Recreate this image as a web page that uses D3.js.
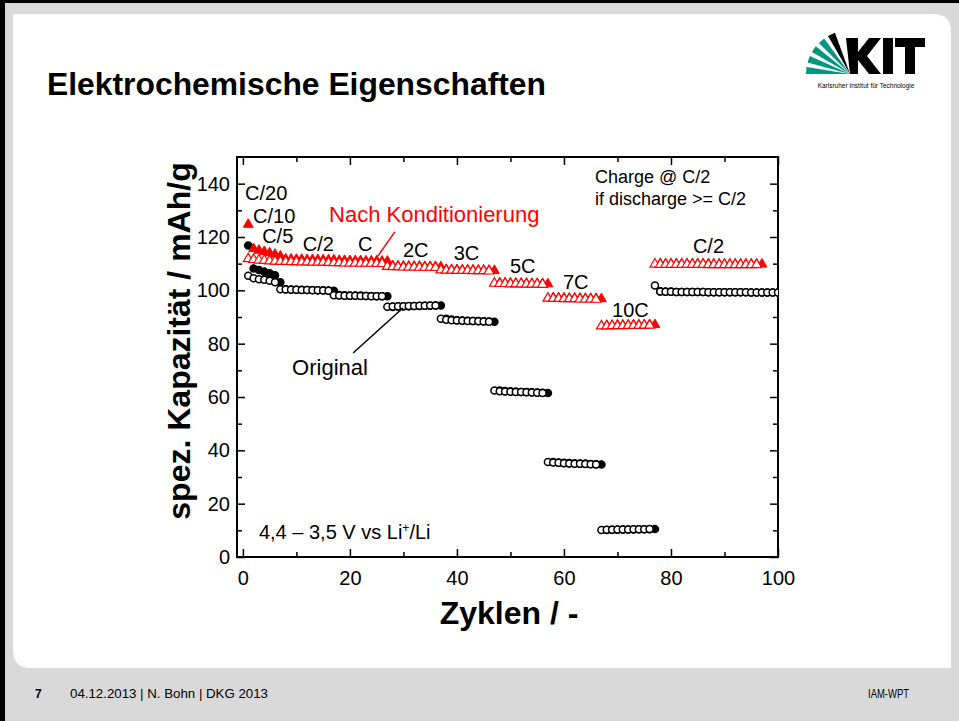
<!DOCTYPE html>
<html>
<head>
<meta charset="utf-8">
<script src="https://cdn.jsdelivr.net/npm/d3@7"></script>
<style>
  body { margin: 0; background: #d9d9d9; }
  svg { display: block; font-family: "Liberation Sans", Arial, sans-serif; }
</style>
</head>
<body>
<div id="chart"></div>
<script>
// ---- data (cycle n = index + 1) ----
// Original: open circles = discharge, filled circles = charge
const origDischarge = [
  105.5, 104.5, 104.2, 104.0, 103.6, 103.0,
  100.4, 100.3, 100.2, 100.2, 100.1, 100.1, 100.0, 100.0, 99.9, 99.8,
  98.2, 98.1, 98.0, 98.0, 98.0, 97.9, 97.9, 97.8, 97.8, 97.8,
  93.8, 93.9, 94.0, 94.0, 94.1, 94.1, 94.2, 94.2, 94.3, 94.3,
  89.3, 89.0, 88.8, 88.7, 88.6, 88.5, 88.5, 88.4, 88.3, 88.2,
  62.4, 62.2, 62.1, 62.0, 61.9, 61.9, 61.8, 61.7, 61.6, 61.5,
  35.6, 35.4, 35.3, 35.2, 35.1, 35.0, 35.0, 34.9, 34.8, 34.7,
  10.1, 10.2, 10.2, 10.3, 10.3, 10.3, 10.4, 10.4, 10.4, 10.5,
  101.8, 99.6, 99.5, 99.5, 99.4, 99.4, 99.4, 99.4, 99.4, 99.4, 99.3, 99.3,
  99.3, 99.3, 99.3, 99.3, 99.3, 99.3, 99.2, 99.2, 99.2, 99.2, 99.2, 99.2
];
const origCharge = [
  116.8, 108.2, 107.6, 107.0, 106.4, 105.6, 103.0,
  100.4, 100.3, 100.2, 100.2, 100.1, 100.1, 100.0, 100.0, 99.9, 99.8,
  98.2, 98.1, 98.0, 98.0, 98.0, 97.9, 97.9, 97.8, 97.8, 97.8,
  93.8, 93.9, 94.0, 94.0, 94.1, 94.1, 94.2, 94.2, 94.3, 94.3,
  89.3, 89.0, 88.8, 88.7, 88.6, 88.5, 88.5, 88.4, 88.3, 88.2,
  62.4, 62.2, 62.1, 62.0, 61.9, 61.9, 61.8, 61.7, 61.6, 61.5,
  35.6, 35.4, 35.3, 35.2, 35.1, 35.0, 35.0, 34.9, 34.8, 34.7,
  10.1, 10.2, 10.2, 10.3, 10.3, 10.3, 10.4, 10.4, 10.4, 10.5,
  99.6, 99.5, 99.5, 99.4, 99.4, 99.4, 99.4, 99.4, 99.4, 99.3, 99.3, 99.3,
  99.3, 99.3, 99.3, 99.3, 99.3, 99.2, 99.2, 99.2, 99.2, 99.2, 99.2
];
// Nach Konditionierung: open triangles = discharge, filled triangles = charge
const kondDischarge = [
  111.8, 111.5, 111.3, 111.2, 111.0, 110.9,
  110.8, 110.8, 110.7, 110.7, 110.6, 110.6, 110.5, 110.5, 110.5, 110.4,
  110.3, 110.3, 110.2, 110.2, 110.2, 110.1, 110.1, 110.1, 110.0, 110.0,
  108.9, 108.8, 108.8, 108.7, 108.7, 108.7, 108.6, 108.6, 108.6, 108.5,
  107.6, 107.5, 107.5, 107.4, 107.4, 107.4, 107.3, 107.3, 107.3, 107.2,
  102.6, 102.5, 102.5, 102.4, 102.4, 102.4, 102.3, 102.3, 102.3, 102.2,
  97.0, 96.9, 96.9, 96.8, 96.8, 96.8, 96.7, 96.7, 96.7, 96.6,
  86.6, 86.6, 86.7, 86.7, 86.7, 86.8, 86.8, 86.8, 86.9, 86.9,
  109.8, 109.7, 109.7, 109.7, 109.7, 109.7, 109.7, 109.7, 109.7, 109.7,
  109.6, 109.6, 109.6, 109.6, 109.6, 109.6, 109.6, 109.6, 109.6, 109.6
];
const kondCharge = [
  124.7, 115.6, 115.0, 114.5, 114.0, 113.5, 112.8,
  111.7, 111.7, 111.6, 111.6, 111.5, 111.5, 111.5, 111.4, 111.4, 111.4,
  111.2, 111.2, 111.1, 111.1, 111.1, 111.0, 111.0, 111.0, 110.9, 110.9,
  109.2, 109.1, 109.1, 109.0, 109.0, 109.0, 108.9, 108.9, 108.9, 108.8,
  107.8, 107.7, 107.7, 107.6, 107.6, 107.6, 107.5, 107.5, 107.5, 107.4,
  102.8, 102.7, 102.7, 102.6, 102.6, 102.6, 102.5, 102.5, 102.5, 102.4,
  97.2, 97.1, 97.1, 97.0, 97.0, 97.0, 96.9, 96.9, 96.9, 96.8,
  86.8, 86.8, 86.9, 86.9, 86.9, 87.0, 87.0, 87.0, 87.1, 87.1,
  110.0, 109.9, 109.9, 109.9, 109.9, 109.9, 109.9, 109.9, 109.9, 109.9,
  109.8, 109.8, 109.8, 109.8, 109.8, 109.8, 109.8, 109.8, 109.8, 109.8
];

// rate labels: [text, cycle, capacity] (text anchor start, baseline)
const rateLabels = [
  ['C/20', 0.4, 133.9], ['C/10', 1.9, 125.4], ['C/5', 3.6, 117.7],
  ['C/2', 11.2, 114.7], ['C', 21.5, 114.7], ['2C', 29.9, 112.5],
  ['3C', 39.4, 111.4], ['5C', 49.9, 106.5], ['7C', 59.8, 100.5],
  ['10C', 69.0, 90.0], ['C/2', 84.1, 114.0]
];

const xMajor = [0, 20, 40, 60, 80, 100];
const xMinor = [10, 30, 50, 70, 90];
const yMajor = [0, 20, 40, 60, 80, 100, 120, 140];
const yMinor = [10, 30, 50, 70, 90, 110, 130];

const W = 959, H = 721;
const FONT = '"Liberation Sans", Arial, sans-serif';

const svg = d3.select('#chart').append('svg')
  .attr('width', W).attr('height', H);

// ---- slide background ----
svg.append('rect').attr('width', W).attr('height', H).attr('fill', '#d9d9d9');
svg.append('rect').attr('x', 0).attr('y', 0).attr('width', 5).attr('height', H).attr('fill', '#000');
svg.append('rect').attr('x', 0).attr('y', 0).attr('width', W).attr('height', 3).attr('fill', '#000');

// white panel, rounded top-right and bottom-left
const pL = 13, pT = 14, pR = 951, pB = 668, rr = 18;
svg.append('path')
  .attr('d', `M${pL},${pT} H${pR - rr} Q${pR},${pT} ${pR},${pT + rr} V${pB} H${pL + rr} Q${pL},${pB} ${pL},${pB - rr} Z`)
  .attr('fill', '#fff');

svg.append('text')
  .attr('x', 47).attr('y', 95)
  .style('font-size', '32px').style('font-weight', 'bold')
  .attr('textLength', 499).attr('lengthAdjust', 'spacingAndGlyphs')
  .text('Elektrochemische Eigenschaften');

// KIT logo
const logo = svg.append('g');
const pivot = [850, 74];
const green = '#009682';
const rays = [[0, 9, green], [15, 24, green], [30, 39, green], [45, 54, green], [60, 70, '#000']];
rays.forEach(r => {
  const len = 44;
  const a0 = r[0] * Math.PI / 180, a1 = r[1] * Math.PI / 180;
  const p0 = [pivot[0] - len * Math.cos(a0), pivot[1] - len * Math.sin(a0)];
  const p1 = [pivot[0] - len * Math.cos(a1), pivot[1] - len * Math.sin(a1)];
  logo.append('path')
    .attr('d', `M${pivot[0]},${pivot[1]} L${p0[0]},${p0[1]} L${p1[0]},${p1[1]} Z`)
    .attr('fill', r[2]);
});
logo.append('path')
  .attr('d', 'M850,74 L846,38 L858,38 L858,52 L869,38 L881,38 L867,56 L881,74 L869,74 L858,60 L858,74 Z')
  .attr('fill', '#000');
logo.append('rect').attr('x', 883).attr('y', 38).attr('width', 10).attr('height', 36).attr('fill', '#000');
logo.append('rect').attr('x', 895).attr('y', 38).attr('width', 30).attr('height', 9).attr('fill', '#000');
logo.append('rect').attr('x', 905).attr('y', 38).attr('width', 10).attr('height', 36).attr('fill', '#000');
logo.append('text')
  .attr('x', 866).attr('y', 88).attr('text-anchor', 'middle')
  .style('font-size', '6.5px')
  .text('Karlsruher Institut für Technologie');

// footer
svg.append('text').attr('x', 35).attr('y', 698).style('font-size', '12px').style('font-weight', 'bold').text('7');
svg.append('text').attr('x', 70).attr('y', 698).style('font-size', '12px')
  .attr('textLength', 198).attr('lengthAdjust', 'spacingAndGlyphs')
  .text('04.12.2013 | N. Bohn | DKG 2013');
svg.append('text').attr('x', 868).attr('y', 698).style('font-size', '12px')
  .attr('textLength', 41).attr('lengthAdjust', 'spacingAndGlyphs')
  .text('IAM-WPT');

// ---- plot ----
const plotLeft = 237, plotRight = 778, plotTop = 157, plotBottom = 557;
const xScale = d3.scaleLinear().domain([-1.1, 100]).range([plotLeft, plotRight]);
const yScale = d3.scaleLinear().domain([0, 150]).range([plotBottom, plotTop]);

const plot = svg.append('g');

svg.append('clipPath').attr('id', 'clip')
  .append('rect').attr('x', plotLeft).attr('y', plotTop)
  .attr('width', plotRight - plotLeft).attr('height', plotBottom - plotTop);

// axes, ticks pointing inward on all four sides
const axisStyle = (g, labels) => {
  g.select('.domain').remove();
  g.selectAll('.tick line').attr('stroke', '#000').attr('stroke-width', 1.5);
  g.selectAll('text').style('font-size', '20px').style('font-family', FONT).attr('fill', '#000');
  if (!labels) g.selectAll('text').remove();
};
plot.append('g').attr('transform', `translate(0,${plotBottom})`)
  .call(d3.axisBottom(xScale).tickValues(xMajor).tickSize(-8).tickPadding(14))
  .call(g => axisStyle(g, true));
plot.append('g').attr('transform', `translate(0,${plotBottom})`)
  .call(d3.axisBottom(xScale).tickValues(xMinor).tickSize(-5))
  .call(g => axisStyle(g, false));
plot.append('g').attr('transform', `translate(0,${plotTop})`)
  .call(d3.axisTop(xScale).tickValues(xMajor).tickSize(-8))
  .call(g => axisStyle(g, false));
plot.append('g').attr('transform', `translate(0,${plotTop})`)
  .call(d3.axisTop(xScale).tickValues(xMinor).tickSize(-5))
  .call(g => axisStyle(g, false));
plot.append('g').attr('transform', `translate(${plotLeft},0)`)
  .call(d3.axisLeft(yScale).tickValues(yMajor).tickSize(-8).tickPadding(7))
  .call(g => axisStyle(g, true));
plot.append('g').attr('transform', `translate(${plotLeft},0)`)
  .call(d3.axisLeft(yScale).tickValues(yMinor).tickSize(-5))
  .call(g => axisStyle(g, false));
plot.append('g').attr('transform', `translate(${plotRight},0)`)
  .call(d3.axisRight(yScale).tickValues(yMajor).tickSize(-8))
  .call(g => axisStyle(g, false));
plot.append('g').attr('transform', `translate(${plotRight},0)`)
  .call(d3.axisRight(yScale).tickValues(yMinor).tickSize(-5))
  .call(g => axisStyle(g, false));

plot.append('rect')
  .attr('x', plotLeft).attr('y', plotTop)
  .attr('width', plotRight - plotLeft).attr('height', plotBottom - plotTop)
  .attr('fill', 'none').attr('stroke', '#000').attr('stroke-width', 2);

// axis titles
svg.append('text')
  .attr('transform', `translate(190,${(plotTop + plotBottom) / 2 - 16}) rotate(-90)`)
  .attr('text-anchor', 'middle')
  .style('font-size', '32px').style('font-weight', 'bold')
  .text('spez. Kapazität / mAh/g');
svg.append('text')
  .attr('x', 509).attr('y', 624).attr('text-anchor', 'middle')
  .style('font-size', '32px').style('font-weight', 'bold')
  .text('Zyklen / -');

// ---- series ----
const marks = plot.append('g').attr('clip-path', 'url(#clip)');
const toPoints = arr => arr.map((v, i) => ({ cycle: i + 1, value: v }));
const tri = d3.symbol(d3.symbolTriangle, 42);

marks.append('g').selectAll('circle')
  .data(toPoints(origCharge)).join('circle')
  .attr('cx', d => xScale(d.cycle)).attr('cy', d => yScale(d.value))
  .attr('r', 3.6).attr('fill', '#000').attr('stroke', '#000').attr('stroke-width', 1.4);
marks.append('g').selectAll('circle')
  .data(toPoints(origDischarge)).join('circle')
  .attr('cx', d => xScale(d.cycle)).attr('cy', d => yScale(d.value))
  .attr('r', 3.5).attr('fill', '#fff').attr('stroke', '#000').attr('stroke-width', 1.5);

marks.append('g').selectAll('path')
  .data(toPoints(kondCharge)).join('path')
  .attr('d', tri)
  .attr('transform', d => `translate(${xScale(d.cycle)},${yScale(d.value)})`)
  .attr('fill', '#ff0000').attr('stroke', '#ff0000').attr('stroke-width', 1);
marks.append('g').selectAll('path')
  .data(toPoints(kondDischarge)).join('path')
  .attr('d', tri)
  .attr('transform', d => `translate(${xScale(d.cycle)},${yScale(d.value)})`)
  .attr('fill', '#fff').attr('stroke', '#ff0000').attr('stroke-width', 1.2);

// ---- annotations ----
plot.append('g').selectAll('text')
  .data(rateLabels).join('text')
  .attr('x', d => xScale(d[1])).attr('y', d => yScale(d[2]))
  .style('font-size', '20px')
  .text(d => d[0]);

plot.append('text')
  .attr('x', xScale(16.1)).attr('y', yScale(125.6))
  .attr('fill', '#ff0000').style('font-size', '22px')
  .text('Nach Konditionierung');
plot.append('line')
  .attr('x1', xScale(28.4)).attr('y1', yScale(121.9))
  .attr('x2', xScale(24.7)).attr('y2', yScale(111.4))
  .attr('stroke', '#ff0000').attr('stroke-width', 1.5);

plot.append('text')
  .attr('x', xScale(9.2)).attr('y', yScale(68.2))
  .style('font-size', '22px')
  .text('Original');
plot.append('line')
  .attr('x1', xScale(20.6)).attr('y1', yScale(76.5))
  .attr('x2', xScale(29.9)).attr('y2', yScale(93.4))
  .attr('stroke', '#000').attr('stroke-width', 1.5);

plot.append('text')
  .attr('x', xScale(65.8)).attr('y', yScale(140.2))
  .style('font-size', '18px')
  .text('Charge @ C/2');
plot.append('text')
  .attr('x', xScale(65.8)).attr('y', yScale(132))
  .style('font-size', '18px')
  .text('if discharge >= C/2');

const volt = plot.append('text')
  .attr('x', xScale(3)).attr('y', yScale(6.7))
  .style('font-size', '20px');
volt.append('tspan').text('4,4 – 3,5 V vs Li');
volt.append('tspan').attr('dy', -7).style('font-size', '12px').text('+');
volt.append('tspan').attr('dy', 7).text('/Li');
</script>
</body>
</html>
